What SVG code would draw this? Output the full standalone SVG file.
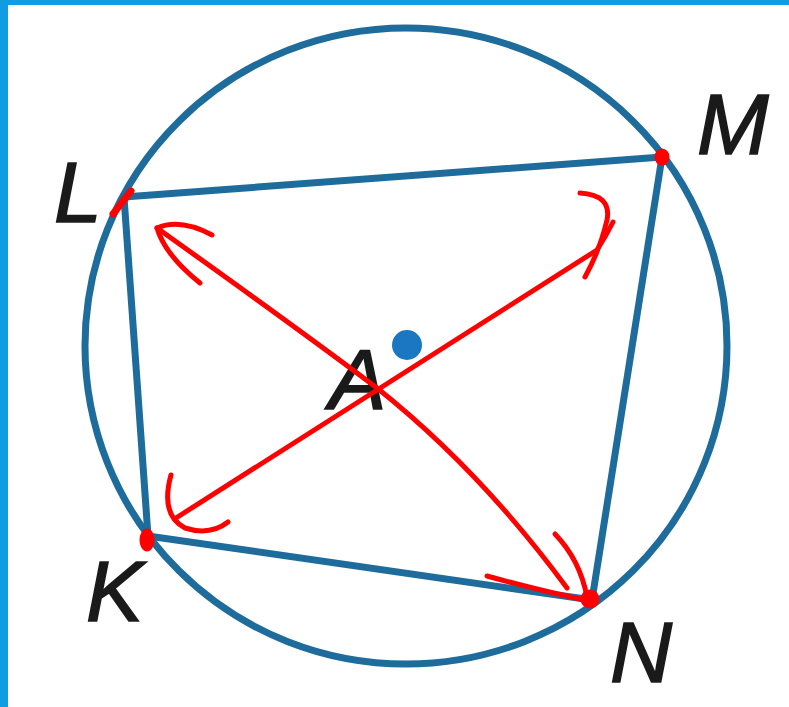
<svg xmlns="http://www.w3.org/2000/svg" width="789" height="707" viewBox="0 0 789 707">
<style>
.frame{fill:#0f9ce2}
.geo{fill:none;stroke:#1d6c9b;stroke-width:7;stroke-linecap:round;stroke-linejoin:round}
.lbl{font-family:"Liberation Sans",Arial,sans-serif;font-style:italic;font-size:86px;fill:#1a1a1a;stroke:#1a1a1a;stroke-width:1.5}
.red{fill:none;stroke:#f00;stroke-width:5;stroke-linecap:round;stroke-linejoin:round}
.redfill{fill:#f00;stroke:#f00;stroke-width:3}
</style>
<rect width="789" height="707" fill="#ffffff"/>
<rect class="frame" x="0" y="0" width="789" height="5"/>
<rect class="frame" x="0" y="0" width="8" height="707"/>
<g id="circle">
<ellipse class="geo" cx="406" cy="346" rx="321" ry="318"/>
</g>
<g id="quadrilateral">
<polygon class="geo" points="124,197 662,157 592,600 148,536"/>
</g>
<g id="center">
<circle cx="407" cy="345" r="15" fill="#1a78c2"/>
</g>
<g id="labels">
<text class="lbl" x="54" y="222">L</text>
<text class="lbl" x="697" y="154">M</text>
<text class="lbl" x="86" y="621">K</text>
<text class="lbl" x="610" y="682">N</text>
<text class="lbl" x="329" y="409">A</text>
</g>
<g id="connectors">
<path class="red" d="M157,228 Q300,330 377,388 Q480,470 567,588"/>
<path class="red" d="M212,235 Q180,218 157,228 Q165,255 200,283"/>
<path class="red" d="M555,534 Q580,560 587,597"/>
<path class="red" d="M487,576 Q530,588 584,600"/>
<path class="red" d="M176,518 L597,250 Q606,236 613,222"/>
<path class="red" d="M171,475 Q160,515 185,528 Q210,536 228,522"/>
<path class="red" d="M580,193 Q612,195 607,220 Q600,250 585,277"/>
</g>
<g id="vertex-marks">
<path class="red" d="M113,214 L131,191" style="stroke-width:7"/>
<ellipse class="redfill" cx="662" cy="157" rx="6" ry="7"/>
<ellipse class="redfill" cx="147" cy="540" rx="6" ry="10"/>
<ellipse class="redfill" cx="590" cy="599" rx="8" ry="8"/>
</g>
</svg>
